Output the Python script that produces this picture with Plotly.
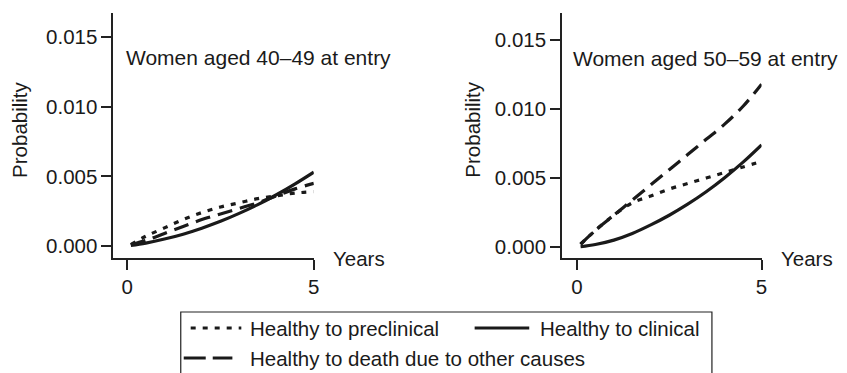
import plotly.graph_objects as go

# ---------------- data ----------------
years = [0.1, 0.5, 1.0, 1.5, 2.0, 2.5, 3.0, 3.5, 4.0, 4.5, 5.0]

# Women aged 40-49 at entry
p40_preclinical = [0.0001, 0.0007, 0.0013, 0.0019, 0.0024, 0.0028, 0.0031, 0.0034, 0.0036, 0.0038, 0.0039]
p40_clinical    = [0.00004, 0.00021, 0.0005, 0.00085, 0.00128, 0.00177, 0.00234, 0.00297, 0.00368, 0.00446, 0.0053]
p40_death       = [0.0001, 0.0004, 0.0009, 0.0014, 0.0019, 0.0023, 0.0027, 0.0031, 0.0036, 0.0041, 0.0045]

# Women aged 50-59 at entry
p50_preclinical = [0.0002, 0.0012, 0.0023, 0.0032, 0.0037, 0.0042, 0.0046, 0.0050, 0.0054, 0.0058, 0.0062]
p50_clinical    = [0.00002, 0.00018, 0.0005, 0.00098, 0.0016, 0.0023, 0.0031, 0.004, 0.00502, 0.00615, 0.0074]
p50_death       = [0.0002, 0.0012, 0.0023, 0.0034, 0.0045, 0.0056, 0.0067, 0.0078, 0.0089, 0.0102, 0.0118]

series_names = ["Healthy to preclinical", "Healthy to clinical", "Healthy to death due to other causes"]
panel_titles = ["Women aged 40\u201349 at entry", "Women aged 50\u201359 at entry"]
y_ticks = [0.0, 0.005, 0.010, 0.015]
x_ticks = [0, 5]

# ---------------- style ----------------
# the page body has an 8px margin, so the figure is drawn at (8, 8)
OFF = 8
W, H = 847 - OFF, 373 - OFF
FONT = "Liberation Sans, Arial, Helvetica, sans-serif"
INK = "#1a1a1a"
dash_styles = ["5px,7px", "solid", "15px,8px"]
LW = 3.2

def px_x(p):
    return (p - OFF) / W

def px_y(p):
    return 1 - (p - OFF) / H

fig = go.Figure()

panels = [
    ("x", "y", [p40_preclinical, p40_clinical, p40_death]),
    ("x2", "y2", [p50_preclinical, p50_clinical, p50_death]),
]
for xa, ya, vals in panels:
    for name, v, d in zip(series_names, vals, dash_styles):
        fig.add_trace(go.Scatter(
            x=years, y=v, mode="lines", name=name, showlegend=False,
            line=dict(color=INK, width=LW, dash=d, shape="spline", smoothing=1.0),
            xaxis=xa, yaxis=ya, hoverinfo="skip",
        ))

axis_common = dict(
    showgrid=False, zeroline=False, showline=True, linecolor="#222", linewidth=1.5,
    ticks="outside", ticklen=10, tickwidth=1.5, tickcolor="#222",
    tickfont=dict(family=FONT, size=20.5, color=INK),
)

fig.update_layout(
    width=W, height=H,
    margin=dict(l=0, r=0, t=0, b=0),
    paper_bgcolor="white", plot_bgcolor="white",
    showlegend=False,
    xaxis=dict(domain=[px_x(114), px_x(316)], range=[-0.372, 5.0], tickvals=x_ticks,
               anchor="y", **axis_common),
    yaxis=dict(domain=[px_y(258), px_y(13)], range=[-0.00086, 0.01672], tickvals=y_ticks,
               tickformat=".3f", anchor="x", **axis_common),
    xaxis2=dict(domain=[px_x(566), px_x(767)], range=[-0.403, 5.0], tickvals=x_ticks,
                anchor="y2", **axis_common),
    yaxis2=dict(domain=[px_y(258), px_y(13)], range=[-0.000797, 0.016957], tickvals=y_ticks,
                tickformat=".3f", anchor="x2", **axis_common),
)

def text(x, y, s, size=20.5, xanchor="left", angle=0):
    fig.add_annotation(x=px_x(x), y=px_y(y), xref="paper", yref="paper", text=s,
                       showarrow=False, xanchor=xanchor, yanchor="middle", textangle=angle,
                       font=dict(family=FONT, size=size, color=INK))

# panel titles
text(125, 57, panel_titles[0], size=21)
text(575, 58, panel_titles[1], size=21)
# axis titles
text(20, 130, "Probability", angle=-90, xanchor="center")
text(476, 130, "Probability", angle=-90, xanchor="center")
text(333, 259, "Years")
text(785, 259, "Years")

# legend box (extends past the bottom edge as in the reference)
fig.add_shape(type="rect", xref="paper", yref="paper",
              x0=px_x(182), x1=px_x(717), y0=px_y(312), y1=px_y(400),
              line=dict(color="#222", width=1.2), fillcolor="rgba(0,0,0,0)")
legend_items = [
    (192, 243, 328, series_names[0], "5px,7px", 250),
    (478, 533, 328, series_names[1], "solid", 542),
    (185, 234, 358, series_names[2], "22px,7px", 250),
]
for x0, x1, yy, name, d, tx in legend_items:
    fig.add_shape(type="line", xref="paper", yref="paper",
                  x0=px_x(x0), x1=px_x(x1), y0=px_y(yy), y1=px_y(yy),
                  line=dict(color=INK, width=LW, dash=d))
    text(tx, yy, name)

fig.write_html("out.html")
